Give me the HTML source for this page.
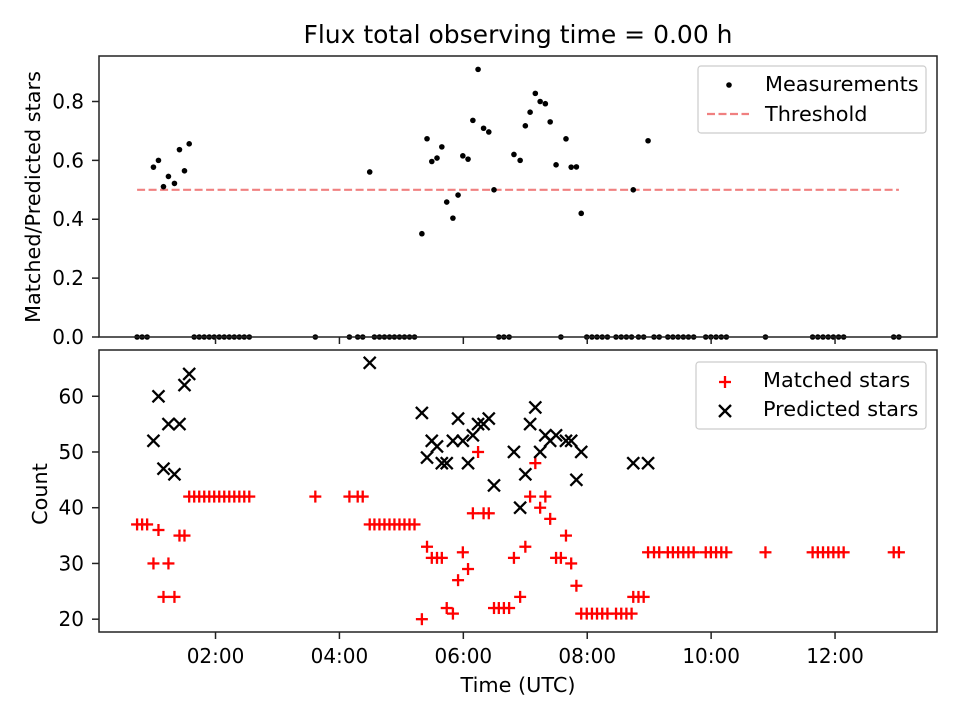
<!DOCTYPE html>
<html><head><meta charset="utf-8"><style>
body{margin:0;background:#fff}
svg text{font-family:"DejaVu Sans","Liberation Sans",sans-serif;fill:#000}
</style></head><body>
<svg id="chart" width="960" height="720" xmlns="http://www.w3.org/2000/svg"></svg>
<script>
const times=[0.734,0.815,0.896,0.998,1.079,1.160,1.240,1.337,1.418,1.499,1.575,
1.656,1.737,1.818,1.899,1.979,2.060,2.141,2.222,2.303,2.384,2.464,2.545,
3.611,4.161,4.295,4.376,4.489,4.565,4.646,4.727,4.808,4.888,4.969,5.050,5.131,5.212,
5.331,5.414,5.491,5.575,5.653,5.732,5.832,5.915,5.992,6.076,6.154,6.238,6.327,6.411,6.495,
6.573,6.655,6.739,6.817,6.917,7.001,7.078,7.162,7.240,7.324,7.402,7.497,7.575,7.657,7.741,7.825,7.903,
7.992,8.076,8.158,8.242,8.326,8.465,8.549,8.632,8.716,8.743,8.827,8.911,8.982,
9.078,9.162,9.301,9.383,9.467,9.551,9.634,9.718,9.913,9.996,10.080,10.164,10.246,10.877,
11.638,11.722,11.806,11.890,11.973,12.057,12.139,12.947,13.031];
const matched=[37,37,37,30,36,24,30,24,35,35,42,
42,42,42,42,42,42,42,42,42,42,42,42,
42,42,42,42,37,37,37,37,37,37,37,37,37,37,
20,33,31,31,31,22,21,27,32,29,39,50,39,39,22,
22,22,22,31,24,33,42,48,40,42,38,31,31,35,30,26,21,
21,21,21,21,21,21,21,21,21,24,24,24,32,
32,32,32,32,32,32,32,32,32,32,32,32,32,32,
32,32,32,32,32,32,32,32,32];
const predicted=[0,0,0,52,60,47,55,46,55,62,64,
0,0,0,0,0,0,0,0,0,0,0,0,
0,0,0,0,66,0,0,0,0,0,0,0,0,0,
57,49,52,51,48,48,52,56,52,48,53,55,55,56,44,
0,0,0,50,40,46,55,58,50,53,52,53,0,52,52,45,50,
0,0,0,0,0,0,0,0,0,48,0,0,48,
0,0,0,0,0,0,0,0,0,0,0,0,0,0,
0,0,0,0,0,0,0,0,0];
const ratio=matched.map((m,i)=>predicted[i]?m/predicted[i]:0);
const threshold=0.5;
const xTicks=[2,4,6,8,10,12];
const xTickLabels=["02:00","04:00","06:00","08:00","10:00","12:00"];
const topYTicks=[0,0.2,0.4,0.6,0.8];
const botYTicks=[20,30,40,50,60];

const NS="http://www.w3.org/2000/svg";
const svg=document.getElementById('chart');
function el(tag,attrs,parent){const e=document.createElementNS(NS,tag);for(const k in attrs)e.setAttribute(k,attrs[k]);(parent||svg).appendChild(e);return e;}
const L=99,R=937,T1=56,B1=337,T2=350,B2=632;
const FS='20', FL='20.8';
const tmin=Math.min(...times),tmax=Math.max(...times),tpad=(tmax-tmin)*0.05;
const x0=tmin-tpad,x1=tmax+tpad;
const X=t=>L+(t-x0)/(x1-x0)*(R-L);
const rmax=Math.max(...ratio)*1.05;
const Y1=v=>B1-v/rmax*(B1-T1);
const allc=matched.concat(predicted.filter(p=>p>0));
const cmin=Math.min(...allc),cmax=Math.max(...allc),cp=(cmax-cmin)*0.05;
const Y2=v=>B2-(v-(cmin-cp))/((cmax+cp)-(cmin-cp))*(B2-T2);

let t=el('text',{x:518,y:43,'text-anchor':'middle','font-size':'25'});t.textContent='Flux total observing time = 0.00 h';


const g1=el('g',{});

el('line',{x1:X(tmin),x2:X(tmax),y1:Y1(threshold),y2:Y1(threshold),stroke:'#f08080','stroke-width':2.2,'stroke-dasharray':'8,3.5'},g1);
ratio.forEach((r,i)=>{const c=el('circle',{cx:X(times[i]),cy:Y1(r),r:2.8,fill:'#000'},g1);

});
el('rect',{x:L,y:T1,width:R-L,height:B1-T1,fill:'none',stroke:'#222','stroke-width':1.5},g1);
topYTicks.forEach(v=>{const y=Y1(v);el('line',{x1:L-7,x2:L,y1:y,y2:y,stroke:'#222','stroke-width':1.5},g1);
const tx=el('text',{x:L-15,y:y+7,'text-anchor':'end','font-size':FS},g1);tx.textContent=v.toFixed(1);
});
xTicks.forEach(v=>{el('line',{x1:X(v),x2:X(v),y1:B1,y2:B1+7,stroke:'#222','stroke-width':1.5},g1);});
t=el('text',{x:0,y:0,transform:'translate(40,197) rotate(-90)','text-anchor':'middle','font-size':FL},g1);t.textContent='Matched/Predicted stars';

const lg1=el('g',{},g1);
el('rect',{x:698,y:66,width:228,height:67,rx:3,fill:'#fff',stroke:'#ccc','stroke-width':1.2},lg1);
el('circle',{cx:729,cy:85,r:2.8,fill:'#000'},lg1);
t=el('text',{x:765,y:91,'font-size':FL},lg1);t.textContent='Measurements';
el('line',{x1:707,x2:749,y1:114,y2:114,stroke:'#f08080','stroke-width':2.2,'stroke-dasharray':'8,3.5'},lg1);
t=el('text',{x:765,y:121,'font-size':FL},lg1);t.textContent='Threshold';

const g2=el('g',{});

function plus(cx,cy,parent){const g=el('g',{stroke:'#f00','stroke-width':2.3},parent);el('line',{x1:cx-6,x2:cx+6,y1:cy,y2:cy},g);el('line',{x1:cx,x2:cx,y1:cy-6,y2:cy+6},g);return g;}
function cross(cx,cy,parent){const g=el('g',{stroke:'#000','stroke-width':2.3},parent);el('line',{x1:cx-6,x2:cx+6,y1:cy-6,y2:cy+6},g);el('line',{x1:cx-6,x2:cx+6,y1:cy+6,y2:cy-6},g);return g;}
matched.forEach((m,i)=>{const g=plus(X(times[i]),Y2(m),g2);

});
predicted.forEach((p,i)=>{if(!p)return;const g=cross(X(times[i]),Y2(p),g2);

});
el('rect',{x:L,y:T2,width:R-L,height:B2-T2,fill:'none',stroke:'#222','stroke-width':1.5},g2);
botYTicks.forEach(v=>{const y=Y2(v);el('line',{x1:L-7,x2:L,y1:y,y2:y,stroke:'#222','stroke-width':1.5},g2);
const tx=el('text',{x:L-15,y:y+7,'text-anchor':'end','font-size':FS},g2);tx.textContent=String(v);
});
xTicks.forEach((v,i)=>{el('line',{x1:X(v),x2:X(v),y1:B2,y2:B2+7,stroke:'#222','stroke-width':1.5},g2);
const tx=el('text',{x:X(v),y:B2+31,'text-anchor':'middle','font-size':FS},g2);tx.textContent=xTickLabels[i];
});
t=el('text',{x:518,y:692,'text-anchor':'middle','font-size':FL},g2);t.textContent='Time (UTC)';

t=el('text',{x:0,y:0,transform:'translate(47,494) rotate(-90)','text-anchor':'middle','font-size':FL},g2);t.textContent='Count';

const lg2=el('g',{},g2);
el('rect',{x:696,y:362,width:230,height:67,rx:3,fill:'#fff',stroke:'#ccc','stroke-width':1.2},lg2);
plus(725,382,lg2);
t=el('text',{x:763,y:387,'font-size':FL},lg2);t.textContent='Matched stars';
cross(725,411,lg2);
t=el('text',{x:763,y:416,'font-size':FL},lg2);t.textContent='Predicted stars';
</script>
</body></html>
